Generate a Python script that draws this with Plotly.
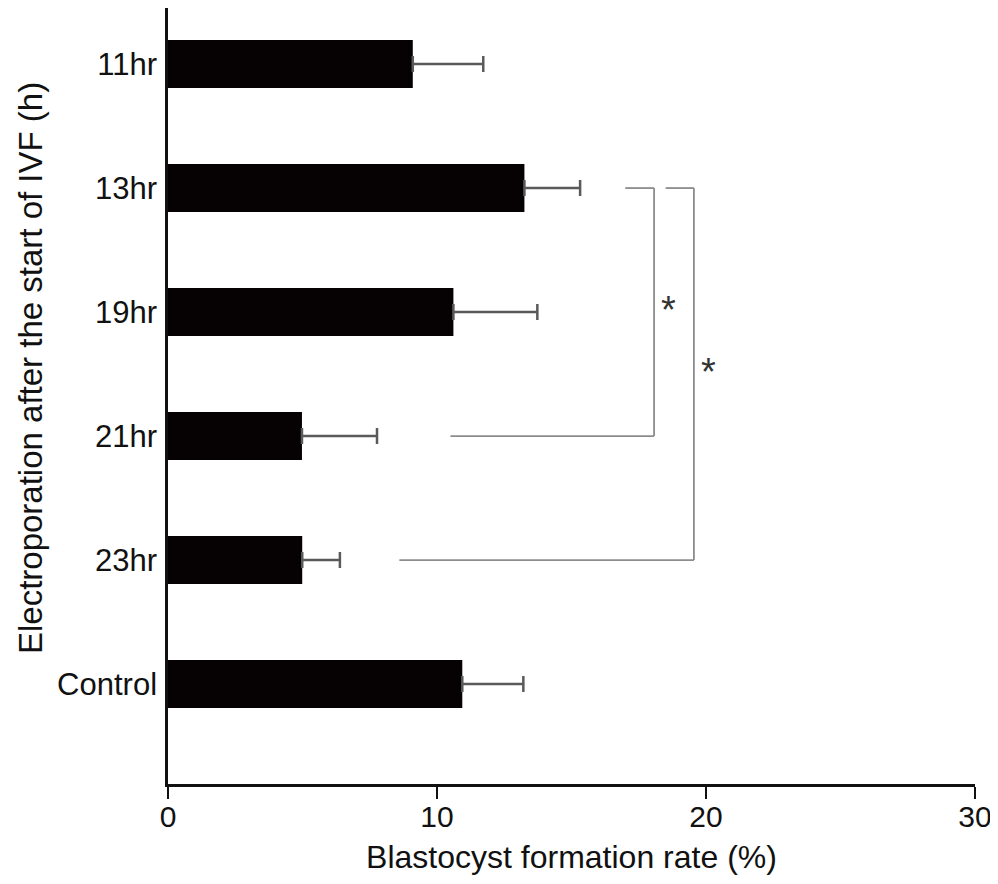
import plotly.graph_objects as go

# ---- data ----
categories = ["11hr", "13hr", "19hr", "21hr", "23hr", "Control"]
rate_mean = [9.10, 13.25, 10.61, 4.98, 4.99, 10.94]
rate_sd = [2.62, 2.07, 3.12, 2.79, 1.40, 2.27]

x_ticks = [0, 10, 20, 30]

# significance brackets: (upper category, lower category)
bracket_top = ["13hr", "13hr"]
bracket_bottom = ["21hr", "23hr"]
bracket_top_start = [17.0, 18.5]      # x where the upper arm starts
bracket_bottom_start = [10.5, 8.6]    # x where the lower arm starts
bracket_spine = [18.07, 19.55]        # x of the vertical spine
bracket_label = ["*", "*"]

fig = go.Figure()
fig.add_trace(go.Bar(
    y=categories,
    x=rate_mean,
    orientation="h",
    width=0.387,
    marker=dict(color="#060203", line=dict(width=0)),
    error_x=dict(type="data", array=rate_sd, arrayminus=[0] * len(rate_sd),
                 symmetric=False, color="#5a5a5a", thickness=2.5, width=8),
    showlegend=False,
))

line_style = dict(color="#8c8c8c", width=1.8)
for top, bot, xs_top, xs_bot, xsp, lab in zip(bracket_top, bracket_bottom,
                                              bracket_top_start, bracket_bottom_start,
                                              bracket_spine, bracket_label):
    yi_t = categories.index(top)
    yi_b = categories.index(bot)
    fig.add_shape(type="line", xref="x", yref="y", x0=xs_top, x1=xsp, y0=yi_t, y1=yi_t, line=line_style)
    fig.add_shape(type="line", xref="x", yref="y", x0=xsp, x1=xsp, y0=yi_t, y1=yi_b, line=line_style)
    fig.add_shape(type="line", xref="x", yref="y", x0=xs_bot, x1=xsp, y0=yi_b, y1=yi_b, line=line_style)
    fig.add_annotation(x=xsp, y=(yi_t + yi_b) / 2, xref="x", yref="y", text=lab,
                       showarrow=False, xanchor="left", xshift=5, yshift=2,
                       font=dict(family="Liberation Sans, Arial", size=38, color="#333333"))

# y-axis title placed as a rotated annotation (it sits above the plot centre in the reference)
fig.add_annotation(text="Electroporation after the start of IVF (h)", textangle=-90,
                   xref="paper", yref="paper", x=0, y=0.536, xanchor="center", yanchor="middle",
                   xshift=-138, showarrow=False,
                   font=dict(family="Liberation Sans, Arial", size=33, color="#111111"))

# the page body adds an 8px offset; the figure is sized so the plot area lands in place
fig.update_layout(
    width=990, height=876,
    margin=dict(l=160, r=23, t=0, b=100, autoexpand=False),
    plot_bgcolor="white", paper_bgcolor="white",
    font=dict(family="Liberation Sans, Arial", color="#111111"),
    bargap=0.6,
)
fig.update_xaxes(
    range=[0, 30], tickvals=x_ticks, ticktext=[str(v) for v in x_ticks],
    showline=True, linecolor="#111111", linewidth=2.5,
    ticks="outside", ticklen=12, tickwidth=2, tickcolor="#111111",
    showgrid=False, zeroline=False,
    tickfont=dict(size=30), ticklabelstandoff=-8,
    title=dict(text="Blastocyst formation rate (%)", font=dict(size=32), standoff=14),
)
fig.update_yaxes(
    type="category", categoryorder="array", categoryarray=categories,
    range=[5.806, -0.452],
    showline=True, linecolor="#111111", linewidth=2.5,
    ticks="", showgrid=False, zeroline=False,
    tickfont=dict(size=31), ticklabelstandoff=2,
)

fig.write_html("out.html")
